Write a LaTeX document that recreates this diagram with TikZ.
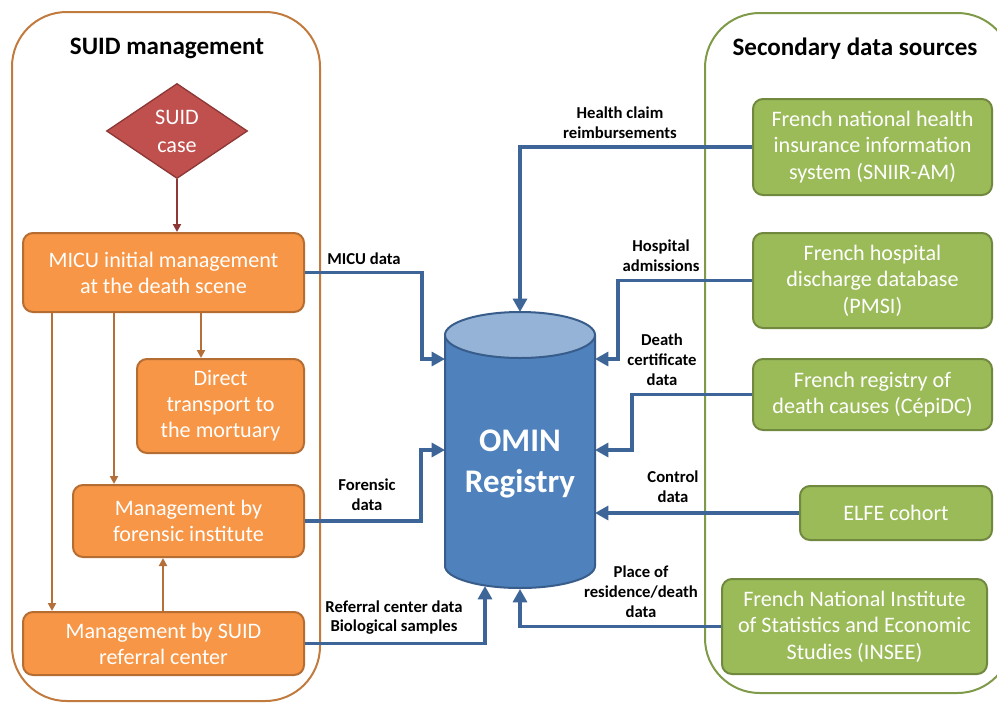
\documentclass[tikz,border=0pt]{standalone}
\usepackage{fontspec}
\setmainfont{Carlito}
\usetikzlibrary{shapes.geometric,arrows.meta}
\definecolor{oFill}{HTML}{F79646}
\definecolor{oLine}{HTML}{B66D31}
\definecolor{panelO}{HTML}{C27B3F}
\definecolor{gFill}{HTML}{9BBB59}
\definecolor{gLine}{HTML}{71893F}
\definecolor{panelG}{HTML}{7F9A48}
\definecolor{rFill}{HTML}{C0504D}
\definecolor{rLine}{HTML}{8C3836}
\definecolor{bLine}{HTML}{3D6597}
\definecolor{brLine}{HTML}{B5703A}
\definecolor{cylBody}{HTML}{4F81BD}
\definecolor{cylTop}{HTML}{95B3D7}
\definecolor{cylLine}{HTML}{385D8A}
\tikzset{
  obox/.style={draw=oLine, line width=1.5pt, fill=oFill, rounded corners=7.5pt, text=white, align=center,
    font=\fontsize{16.6}{19.5}\selectfont, inner sep=0pt},
  gbox/.style={draw=gLine, line width=1.5pt, fill=gFill, rounded corners=7.5pt, text=white, align=center,
    font=\fontsize{16.6}{19.8}\selectfont, inner sep=0pt},
  lab/.style={font=\bfseries\fontsize{12.5}{15}\selectfont, align=center, inner sep=0pt},
  ttl/.style={font=\bfseries\fontsize{18.8}{22}\selectfont, inner sep=0pt},
  panel/.style={line width=1.5pt, rounded corners=41pt},
  barrow/.style={draw=bLine, line width=2.3pt, -{Triangle[length=10pt,width=10.5pt]}},
  brarrow/.style={draw=brLine, line width=1.5pt, -{Triangle[length=6pt,width=6pt]}},
}
\begin{document}
\begin{tikzpicture}[x=0.75pt,y=-0.75pt]
\useasboundingbox (0,0) rectangle (997,704);
\clip (0,0) rectangle (997,704);
\fill[white] (0,0) rectangle (997,704);

% panels
\draw[panel, draw=panelO] (12,12) rectangle (320,701);
\draw[panel, draw=panelG] (705,13) rectangle (1012,693);
\node[ttl] (t1) at (167,48) {SUID management};
\node[ttl] (t2) at (855,49) {Secondary data sources};

% left side nodes
\node[diamond, draw=rLine, line width=1pt, fill=rFill, text=white, align=center, inner sep=0pt, aspect=1.5,
  minimum width=105.75pt, minimum height=71.25pt, font=\fontsize{16.6}{21}\selectfont] (suid) at (177,131) {SUID\\case};
\node[obox, minimum width=210.75pt, minimum height=59.25pt] (micu) at (163.5,272.5) {MICU initial management\\at the death scene};
\node[obox, minimum width=125.25pt, minimum height=70.5pt] (direct) at (220.5,406) {Direct\\transport to\\the mortuary};
\node[obox, minimum width=173.25pt, minimum height=54pt] (foren) at (188.5,521) {Management by\\forensic institute};
\node[obox, minimum width=210.75pt, minimum height=47.25pt] (refc) at (163.5,643.5) {Management by SUID\\referral center};

% right side nodes
\node[gbox, minimum width=179.25pt, minimum height=72pt] (sniir) at (872.5,147) {French national health\\insurance information\\system (SNIIR-AM)};
\node[gbox, minimum width=179.25pt, minimum height=71.25pt] (pmsi) at (872.5,280.5) {French hospital\\discharge database\\(PMSI)};
\node[gbox, minimum width=179.25pt, minimum height=53.25pt] (cepi) at (872.5,394.5) {French registry of\\death causes (CépiDC)};
\node[gbox, minimum width=144pt, minimum height=40.5pt] (elfe) at (896,513) {ELFE cohort};
\node[gbox, minimum width=198.75pt, minimum height=71.25pt] (insee) at (854.5,626.5) {French National Institute\\of Statistics and Economic\\Studies (INSEE)};

% cylinder
\draw[draw=cylLine, fill=cylBody, line width=1.5pt] (445,335) -- (445,566)
  arc[start angle=180, end angle=0, x radius=75, y radius=22] -- (595,335);
\draw[draw=cylLine, fill=cylTop, line width=1.5pt] (520,335) ellipse [x radius=75, y radius=23];
\node[font=\bfseries\fontsize{24.75}{30.75}\selectfont, text=white, align=center] (reg) at (520,463.5) {OMIN\\Registry};

\coordinate (cW1) at (445,359);
\coordinate (cW2) at (445,450);
\coordinate (cE1) at (595,359);
\coordinate (cE2) at (595,450);
\coordinate (cE3) at (595,513);
\coordinate (cT) at (520,312);
\coordinate (cB1) at (485,586);
\coordinate (cB2) at (520,589);

% brown arrows
\coordinate (xa) at (52,0);
\coordinate (xb) at (114,0);
\coordinate (xc) at (201,0);
\coordinate (xd) at (163,0);
\draw[draw=rLine, line width=1.5pt, -{Triangle[length=6pt,width=6pt]}] (suid.south) -- (suid.south |- micu.north);
\draw[brarrow] (micu.south -| xc) -- (direct.north -| xc);
\draw[brarrow] (micu.south -| xb) -- (foren.north -| xb);
\draw[brarrow] (micu.south -| xa) -- (refc.north -| xa);
\draw[brarrow] (refc.north -| xd) -- (foren.south -| xd);

% blue connectors
\draw[barrow] (micu.east) -| (422,359) -- (cW1);
\draw[barrow] (foren.east) -| (421,450) -- (cW2);
\draw[barrow] (refc.east) -| (cB1);
\draw[barrow] (sniir.west) -| (cT);
\draw[barrow] (pmsi.west) -| (618,359) -- (cE1);
\draw[barrow] (cepi.west) -| (632,450) -- (cE2);
\draw[barrow] (elfe.west) -- (cE3);
\draw[barrow] (insee.west) -| (cB2);

% labels
\node[lab] (l1) at (364,259) {MICU data};
\node[lab] (l2) at (367,494.5) {Forensic\\data};
\node[lab, font=\bfseries\fontsize{12.5}{14.3}\selectfont] (l3) at (394,617.5) {Referral center data\\Biological samples};
\node[lab] (l4) at (620,123) {Health claim\\reimbursements};
\node[lab] (l5) at (661,256) {Hospital\\admissions};
\node[lab] (l6) at (662,360) {Death\\certificate\\data};
\node[lab] (l7) at (673,487) {Control\\data};
\node[lab] (l8) at (641,592) {Place of\\residence/death\\data};
\end{tikzpicture}
\end{document}
